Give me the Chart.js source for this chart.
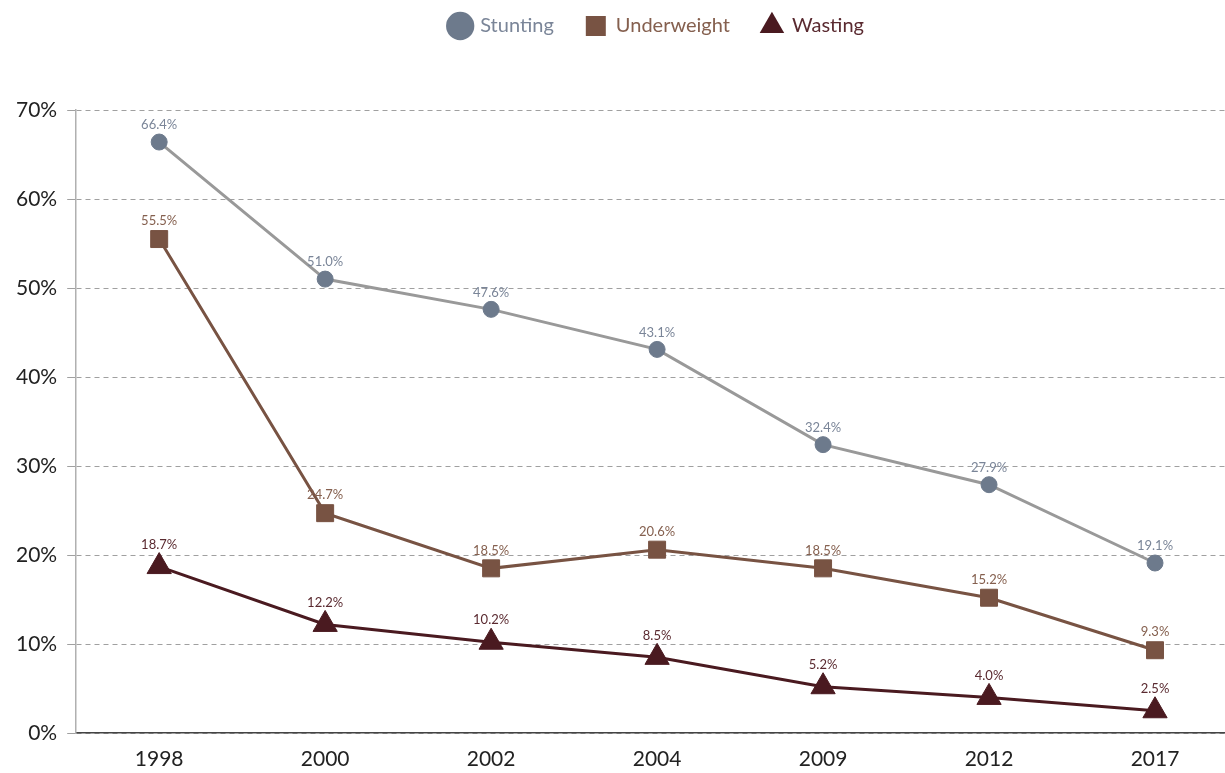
<!DOCTYPE html>
<html>
<head>
<meta charset="utf-8">
<script src="https://cdn.jsdelivr.net/npm/chart.js@4/dist/chart.umd.min.js"></script>
<style>
  html, body { margin: 0; padding: 0; background: #fff; overflow: hidden; }
  #wrap { width: 1253px; height: 773px; position: relative; }
</style>
</head>
<body>
<div id="wrap"><canvas id="myChart"></canvas></div>
<script>
var years = ['1998', '2000', '2002', '2004', '2009', '2012', '2017'];
var stunting = [66.4, 51.0, 47.6, 43.1, 32.4, 27.9, 19.1];
var underweight = [55.5, 24.7, 18.5, 20.6, 18.5, 15.2, 9.3];
var wasting = [18.7, 12.2, 10.2, 8.5, 5.2, 4.0, 2.5];

var FONT = 'Lato, "Open Sans", sans-serif';

// draw the value above each point
var valueLabels = {
  id: 'valueLabels',
  afterDatasetsDraw: function(chart) {
    var ctx = chart.ctx;
    ctx.save();
    ctx.font = '13px ' + FONT;
    ctx.textAlign = 'center';
    ctx.textBaseline = 'middle';
    chart.data.datasets.forEach(function(ds, i) {
      var meta = chart.getDatasetMeta(i);
      ctx.fillStyle = ds.labelColor;
      meta.data.forEach(function(pt, j) {
        ctx.fillText(ds.data[j].toFixed(1) + '%', pt.x, pt.y - ds.labelOffset);
      });
    });
    ctx.restore();
  }
};

// push the plot down below the legend
var legendMargin = {
  id: 'legendMargin',
  beforeInit: function(chart) {
    var fit = chart.legend.fit;
    chart.legend.fit = function() {
      fit.bind(chart.legend)();
      this.height += 64;
    };
  }
};

var data = {
  labels: years,
  datasets: [{
    label: 'Stunting',
    data: stunting,
    borderColor: '#999999',
    backgroundColor: '#6d7a8c',
    pointBackgroundColor: '#6d7a8c',
    pointBorderColor: '#6d7a8c',
    pointStyle: 'circle',
    pointRadius: 8,
    labelColor: '#7a8598',
    labelOffset: 17
  }, {
    label: 'Underweight',
    data: underweight,
    borderColor: '#785343',
    backgroundColor: '#785343',
    pointBackgroundColor: '#785343',
    pointBorderColor: '#785343',
    pointStyle: 'rect',
    pointRadius: 12,
    labelColor: '#85604f',
    labelOffset: 18
  }, {
    label: 'Wasting',
    data: wasting,
    borderColor: '#4a1a20',
    backgroundColor: '#4a1a20',
    pointBackgroundColor: '#4a1a20',
    pointBorderColor: '#4a1a20',
    pointStyle: 'triangle',
    pointRadius: 14,
    labelColor: '#5a2a30',
    labelOffset: 22
  }]
};

var config = {
  type: 'line',
  data: data,
  plugins: [valueLabels, legendMargin],
  options: {
    responsive: true,
    maintainAspectRatio: false,
    animation: false,
    layout: { padding: { left: 6, right: 0, top: -16, bottom: 0 } },
    elements: {
      line: { borderWidth: 3, tension: 0 },
      point: { borderWidth: 1, hoverRadius: 8 }
    },
    plugins: {
      tooltip: { enabled: false },
      legend: {
        position: 'top',
        fullSize: false,
        labels: {
          usePointStyle: true,
          boxWidth: 24,
          boxHeight: 24,
          padding: 32,
          font: { family: FONT, size: 20 },
          generateLabels: function(chart) {
            return chart.data.datasets.map(function(ds, i) {
              return {
                text: ds.label,
                fillStyle: ds.backgroundColor,
                strokeStyle: ds.backgroundColor,
                fontColor: ds.labelColor,
                pointStyle: ds.pointStyle,
                lineWidth: 0,
                hidden: false,
                datasetIndex: i
              };
            });
          }
        }
      }
    },
    scales: {
      x: {
        offset: true,
        grid: { display: false, drawTicks: false },
        border: { color: '#444444', width: 1.5 },
        ticks: { color: '#222222', font: { family: FONT, size: 21 }, padding: 14 },
        afterFit: function(scale) {
          scale.height = 40;
        }
      },
      y: {
        min: 0,
        max: 70,
        ticks: {
          stepSize: 10,
          color: '#222222',
          padding: 10,
          font: { family: FONT, size: 21 },
          callback: function(v) { return v + '%'; }
        },
        grid: { color: '#a0a0a0', tickLength: 9, lineWidth: 1 },
        border: { color: '#b0b0b0', width: 1.5, dash: [5, 4] }
      }
    }
  }
};

new Chart(document.getElementById('myChart'), config);
</script>
</body>
</html>
